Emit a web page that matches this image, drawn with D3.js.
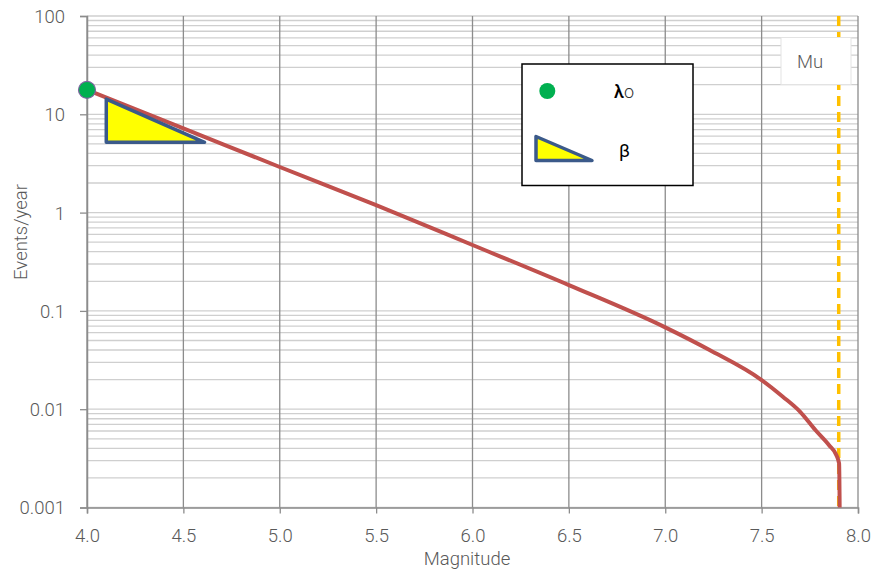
<!DOCTYPE html>
<html>
<head>
<meta charset="utf-8">
<script src="https://cdn.jsdelivr.net/npm/d3@7"></script>
<style>
  html, body { margin: 0; padding: 0; background: #fff; }
  svg { display: block; font-family: Roboto, "Liberation Sans", sans-serif; }
</style>
</head>
<body>
<svg id="chart" width="873" height="572"></svg>
<script>
// Annual rate of events above each magnitude (truncated recurrence curve)
const magnitudes = [4.0, 4.5, 5.0, 5.5, 6.0, 6.5, 7.0, 7.23, 7.5, 7.61, 7.7, 7.78, 7.85, 7.888, 7.902, 7.906];
const rates      = [17.7, 7.2, 2.91, 1.19, 0.468, 0.183, 0.068, 0.040, 0.0198, 0.0134, 0.0094, 0.0061, 0.0043, 0.0034, 0.0028, 0.0005];

// Activity rate at the minimum magnitude
const lambda0 = { m: 4.0, rate: 17.7 };
// Slope triangle (magnitude, rate)
const slopeTriangle = [[4.1, 14.3], [4.1, 5.19], [4.61, 5.19]];
// Maximum magnitude
const mu = 7.9;

const xTicks = [4.0, 4.5, 5.0, 5.5, 6.0, 6.5, 7.0, 7.5, 8.0];
const yTicks = [0.001, 0.01, 0.1, 1, 10, 100];
const yTickLabels = ["0.001", "0.01", "0.1", "1", "10", "100"];

const svg = d3.select("#chart");
const plot = { left: 87, right: 858, top: 16, bottom: 507.5 };
const labelSize = 18.5;

const x = d3.scaleLinear().domain([4.0, 8.0]).range([plot.left, plot.right]);
const y = d3.scaleLog().domain([0.001, 100]).range([plot.bottom, plot.top]);

// Minor horizontal grid (1..9 within each decade)
const minorVals = [];
for (let e = -3; e < 2; e++) {
  for (let k = 1; k <= 9; k++) minorVals.push(k * Math.pow(10, e));
}
minorVals.push(100);
svg.append("g").selectAll("line").data(minorVals).join("line")
  .attr("x1", plot.left).attr("x2", plot.right)
  .attr("y1", d => y(d)).attr("y2", d => y(d))
  .attr("stroke", "#cfcfcf").attr("stroke-width", 1.3);

// Vertical grid
svg.append("g").selectAll("line").data(xTicks).join("line")
  .attr("x1", d => x(d)).attr("x2", d => x(d))
  .attr("y1", plot.top).attr("y2", plot.bottom)
  .attr("stroke", "#8c8c8c").attr("stroke-width", 1.3);

// Axes
const xAxis = svg.append("g").attr("transform", `translate(0,${plot.bottom})`)
  .call(d3.axisBottom(x).tickValues(xTicks).tickFormat(d3.format(".1f")).tickSizeOuter(0).tickSize(6).tickPadding(15));
const yAxis = svg.append("g").attr("transform", `translate(${plot.left},0)`)
  .call(d3.axisLeft(y).tickValues(yTicks).tickFormat((d, i) => yTickLabels[i]).tickSizeOuter(0).tickSize(7).tickPadding(15));
[xAxis, yAxis].forEach(a => {
  a.select(".domain").attr("stroke", "#8c8c8c").attr("stroke-width", 1.5);
  a.selectAll(".tick line").attr("stroke", "#8c8c8c").attr("stroke-width", 1.3);
  a.selectAll(".tick text").attr("fill", "#595959").attr("font-size", labelSize).attr("font-weight", 300)
    .attr("font-family", "Roboto, sans-serif");
});
yAxis.selectAll(".tick text").attr("dy", "0.35em");

// Axis titles
svg.append("text").attr("x", 467).attr("y", 565).attr("text-anchor", "middle")
  .attr("fill", "#595959").attr("font-size", labelSize).attr("font-weight", 300).text("Magnitude");
svg.append("text").attr("transform", "translate(27,232) rotate(-90)").attr("text-anchor", "middle")
  .attr("fill", "#595959").attr("font-size", labelSize).attr("font-weight", 300).text("Events/year");

// Maximum magnitude line
svg.append("line")
  .attr("x1", x(mu)).attr("x2", x(mu)).attr("y1", plot.top).attr("y2", plot.bottom)
  .attr("stroke", "#ffc000").attr("stroke-width", 3.5).attr("stroke-dasharray", "10,6");

// Recurrence curve
svg.append("clipPath").attr("id", "plotClip").append("rect")
  .attr("x", plot.left).attr("y", plot.top).attr("width", plot.right - plot.left + 2).attr("height", plot.bottom - plot.top);
const line = d3.line().x(d => x(d[0])).y(d => y(d[1])).curve(d3.curveMonotoneX);
svg.append("path")
  .datum(magnitudes.map((m, i) => [m, rates[i]]))
  .attr("clip-path", "url(#plotClip)")
  .attr("d", line)
  .attr("fill", "none").attr("stroke", "#c0504d").attr("stroke-width", 4)
  .attr("stroke-linejoin", "round");

// Slope triangle
svg.append("path")
  .attr("d", d3.line().x(d => x(d[0])).y(d => y(d[1]))(slopeTriangle) + "Z")
  .attr("fill", "#ffff00").attr("stroke", "#3b5a8a").attr("stroke-width", 3.5)
  .attr("stroke-linejoin", "round");

// Lambda0 point
svg.append("circle").attr("cx", x(lambda0.m)).attr("cy", y(lambda0.rate)).attr("r", 8.5)
  .attr("fill", "#00b050").attr("stroke", "#8064a2").attr("stroke-width", 1.2);

// Mu label box
svg.append("rect").attr("x", 781).attr("y", 37.5).attr("width", 70).attr("height", 47)
  .attr("fill", "#fff").attr("stroke", "#e3e3e3").attr("stroke-width", 1);
svg.append("text").attr("x", 810).attr("y", 68).attr("text-anchor", "middle")
  .attr("fill", "#595959").attr("font-size", labelSize).attr("font-weight", 300).text("Mu");

// Legend
const lg = svg.append("g");
lg.append("rect").attr("x", 522).attr("y", 64).attr("width", 171).attr("height", 121.5)
  .attr("fill", "#fff").attr("stroke", "#000").attr("stroke-width", 1.5);
lg.append("circle").attr("cx", 547.3).attr("cy", 91).attr("r", 8).attr("fill", "#00b050");
lg.append("path").attr("d", "M536,136.5 L536,160.5 L592,160.5 Z")
  .attr("fill", "#ffff00").attr("stroke", "#3b5a8a").attr("stroke-width", 3.5)
  .attr("stroke-linejoin", "round");
const lt = lg.append("text").attr("x", 614).attr("y", 98).attr("fill", "#000").attr("font-size", 18);
lt.append("tspan").attr("font-weight", 500).text("λ");
lt.append("tspan").attr("font-weight", 300).attr("font-size", 18).attr("fill", "#333").text("o");
lg.append("text").attr("x", 619).attr("y", 157).attr("fill", "#000").attr("font-size", 18.5)
  .attr("font-weight", 400).text("β");
</script>
</body>
</html>
